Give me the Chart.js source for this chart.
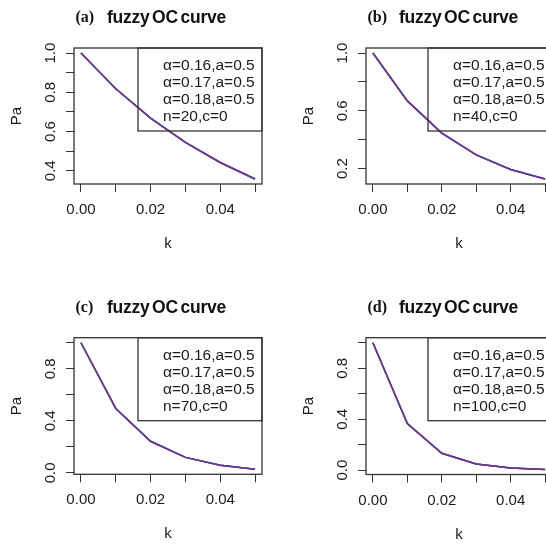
<!DOCTYPE html>
<html>
<head>
<meta charset="utf-8">
<script src="https://cdn.jsdelivr.net/npm/chart.js@4.4.1/dist/chart.umd.min.js"></script>
<style>
  html, body { margin: 0; padding: 0; background: #fff; }
  body { width: 546px; height: 545px; overflow: hidden; position: relative; }
  .panel { position: absolute; }
</style>
</head>
<body>
<div class="panel" style="left:0;top:0;width:273px;height:272px"><canvas id="cA"></canvas></div>
<div class="panel" style="left:273px;top:0;width:300px;height:272px"><canvas id="cB"></canvas></div>
<div class="panel" style="left:0;top:272px;width:273px;height:273px"><canvas id="cC"></canvas></div>
<div class="panel" style="left:273px;top:272px;width:300px;height:273px"><canvas id="cD"></canvas></div>
<script>
// ================================
// DATA
// ================================
const kValues = [0, 0.01, 0.02, 0.03, 0.04, 0.05];
const xTickValues = [0, 0.01, 0.02, 0.03, 0.04, 0.05];
const xTickLabels = ["0.00", "", "0.02", "", "0.04", ""];

const alphaLabels = ["\u03b1=0.16,a=0.5", "\u03b1=0.17,a=0.5", "\u03b1=0.18,a=0.5"];
const planLabels = ["n=20,c=0", "n=40,c=0", "n=70,c=0", "n=100,c=0"];
const panelTags = ["(a)", "(b)", "(c)", "(d)"];

// Pa for the three alpha cuts overlap completely in every panel
const paN20 = [1.0, 0.818, 0.668, 0.544, 0.442, 0.358];
const paN40 = [1.0, 0.669, 0.446, 0.296, 0.195, 0.129];
const paN70 = [1.0, 0.495, 0.243, 0.119, 0.058, 0.028];
const paN100 = [1.0, 0.366, 0.133, 0.048, 0.017, 0.006];

const yTicksA = [0.4, 0.5, 0.6, 0.7, 0.8, 0.9, 1.0];
const yLabelsA = ["0.4", "", "0.6", "", "0.8", "", "1.0"];
const yTicksB = [0.2, 0.4, 0.6, 0.8, 1.0];
const yLabelsB = ["0.2", "", "0.6", "", "1.0"];
const yTicksCD = [0, 0.2, 0.4, 0.6, 0.8, 1.0];
const yLabelsCD = ["0.0", "", "0.4", "", "0.8", ""];

const lineColors = ["#6a3a8e", "#5a3c98", "#5b3a94"];
const SANS = '"Liberation Sans", Arial, sans-serif';
const SERIF = '"Liberation Serif", "Times New Roman", serif';

// R style axis range: data range plus 4% each side
function rRange(vals) {
  const lo = Math.min(...vals), hi = Math.max(...vals);
  const d = (hi - lo) * 0.04;
  return [lo - d, hi + d];
}

// ================================
// DECORATION (box, legend, titles)
// ================================
function decorPlugin(p) {
  return {
    id: "rdecor",
    afterDraw(chart) {
      const ctx = chart.ctx;
      const ca = chart.chartArea;
      const ys = chart.scales.y;
      ctx.save();
      ctx.strokeStyle = "#333";
      ctx.lineWidth = 1.3;
      ctx.strokeRect(ca.left, ca.top, ca.right - ca.left, ca.bottom - ca.top);

      // legend (text only)
      const lx = ca.right - 124;
      ctx.strokeRect(lx, ca.top, ca.right - lx, 83);
      ctx.fillStyle = "#1a1a1a";
      ctx.font = "15.5px " + SANS;
      ctx.textBaseline = "middle";
      ctx.textAlign = "left";
      const lines = alphaLabels.concat([p.plan]);
      lines.forEach((t, i) => ctx.fillText(t, lx + 25, ca.top + 18 + i * 17));

      // y tick labels, rotated like R
      ctx.font = "15px " + SANS;
      ctx.textAlign = "center";
      p.yTicks.forEach((v, i) => {
        if (!p.yLabels[i]) return;
        ctx.save();
        ctx.translate(ca.left - 23, ys.getPixelForValue(v));
        ctx.rotate(-Math.PI / 2);
        ctx.fillText(p.yLabels[i], 0, 0);
        ctx.restore();
      });

      // axis titles
      ctx.save();
      ctx.translate(ca.left - 57, (ca.top + ca.bottom) / 2);
      ctx.rotate(-Math.PI / 2);
      ctx.fillText("Pa", 0, 0);
      ctx.restore();
      ctx.fillText("k", (ca.left + ca.right) / 2, ca.bottom + 60);

      // main title
      ctx.fillStyle = "#111";
      ctx.textAlign = "left";
      ctx.font = "bold 16px " + SERIF;
      ctx.fillText(p.tag, ca.left + 1.5, ca.top - 30);
      ctx.font = "bold 17.5px " + SANS;
      ctx.letterSpacing = "-0.25px";
      ctx.wordSpacing = "-2px";
      ctx.fillText("fuzzy OC curve", ca.left + 33, ca.top - 30);
      ctx.restore();
    }
  };
}

// ================================
// BUILD ONE PANEL
// ================================
function buildPanel(id, p) {
  const [xMin, xMax] = rRange(kValues);
  const [yMin, yMax] = rRange(p.series);

  const datasets = alphaLabels.map((lab, j) => ({
    label: lab,
    data: kValues.map((k, i) => ({ x: k, y: p.series[i] })),
    borderColor: lineColors[j],
    borderWidth: 1.5,
    pointRadius: 0,
    tension: 0,
    fill: false
  }));

  new Chart(document.getElementById(id), {
    type: "line",
    data: { datasets },
    options: {
      responsive: true,
      maintainAspectRatio: false,
      animation: false,
      layout: { padding: { left: 0, top: p.top, right: p.right, bottom: 0 } },
      plugins: { legend: { display: false }, tooltip: { enabled: false } },
      scales: {
        x: {
          type: "linear",
          min: xMin,
          max: xMax,
          afterBuildTicks: s => { s.ticks = xTickValues.map(v => ({ value: v })); },
          afterFit: s => { s.height = p.xHeight; },
          ticks: {
            autoSkip: false,
            maxRotation: 0,
            padding: 9,
            color: "#1a1a1a",
            font: { family: SANS, size: 15 },
            callback: (v, i) => xTickLabels[i]
          },
          grid: { drawOnChartArea: false, drawTicks: true, tickLength: 8, tickColor: "#333", lineWidth: 1 },
          border: { display: false }
        },
        y: {
          type: "linear",
          min: yMin,
          max: yMax,
          afterBuildTicks: s => { s.ticks = p.yTicks.map(v => ({ value: v })); },
          afterFit: s => { s.width = p.left; },
          ticks: { autoSkip: false, callback: () => "" },
          grid: { drawOnChartArea: false, drawTicks: true, tickLength: 8, tickColor: "#333", lineWidth: 1 },
          border: { display: false }
        }
      }
    },
    plugins: [decorPlugin(p)]
  });
}

// ================================
// MAIN
// ================================
buildPanel("cA", { tag: panelTags[0], plan: planLabels[0], series: paN20, yTicks: yTicksA, yLabels: yLabelsA,
  left: 74, right: 11, top: 48, xHeight: 88 });
buildPanel("cB", { tag: panelTags[1], plan: planLabels[1], series: paN40, yTicks: yTicksB, yLabels: yLabelsB,
  left: 93, right: 21, top: 48, xHeight: 88 });
buildPanel("cC", { tag: panelTags[2], plan: planLabels[2], series: paN70, yTicks: yTicksCD, yLabels: yLabelsCD,
  left: 74, right: 11, top: 65.7, xHeight: 70.7 });
buildPanel("cD", { tag: panelTags[3], plan: planLabels[3], series: paN100, yTicks: yTicksCD, yLabels: yLabelsCD,
  left: 93, right: 21, top: 65.7, xHeight: 70.5 });
</script>
</body>
</html>
